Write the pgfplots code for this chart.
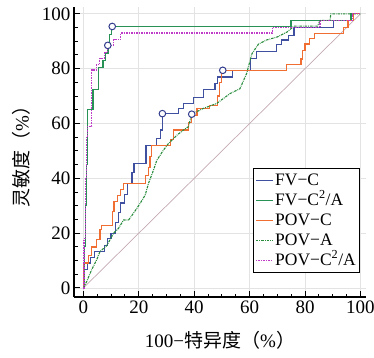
\documentclass[border=0pt]{standalone}
\usepackage{fontspec}
\setmainfont{Liberation Serif}
\newfontfamily\cjk{Noto Sans CJK SC}
\usepackage{pgfplots}
\pgfplotsset{compat=1.18}
\definecolor{cBlue}{RGB}{64,80,160}
\definecolor{cGreen}{RGB}{40,145,85}
\definecolor{cOrange}{RGB}{240,110,50}
\definecolor{cGreenD}{RGB}{40,140,60}
\definecolor{cMag}{RGB}{190,60,200}
\definecolor{cDiag}{RGB}{195,170,178}
\definecolor{cCirc}{RGB}{50,60,140}
\begin{document}
\begin{tikzpicture}
\begin{axis}[
  at={(0,0)}, anchor=south west,
  scale only axis, width=292pt, height=290pt,
  xmin=-3.4, xmax=102, ymin=-3.3, ymax=102.5,
  axis x line*=bottom, axis y line*=left,
  axis line style={black, line width=1.5pt, -},
  xtick={0,20,...,100}, ytick={0,20,...,100},
  minor x tick num=3, minor y tick num=3,
  tick align=inside,
  major tick length=6pt, minor tick length=3.5pt,
  tick style={black, line width=1pt},
  grid=major, major grid style={gray!22, line width=0.8pt},
  ticklabel style={font=\fontsize{19}{21}\selectfont},
  /pgf/number format/assume math mode=true,
  label style={font=\fontsize{19}{21}\selectfont},
  xlabel={100−{\cjk 特异度（}\%{\cjk ）}},
  ylabel={{\cjk 灵敏度（}\%{\cjk ）}},
  xlabel style={at={(axis description cs:0.5,-0.148)}, anchor=center},
  ylabel style={at={(axis description cs:-0.18,0.5)}, anchor=center},
  legend style={at={(axis description cs:0.979,0.445)}, anchor=north east,
    draw=black, line width=1.1pt, fill=white,
    font=\fontsize{17.5}{19}\selectfont,
    nodes={inner sep=1.5pt, text height=13pt, text depth=4pt},
    inner sep=2pt},
  legend cell align=left,
]
\addplot[cDiag, line width=0.7pt, forget plot] coordinates {(0,0) (100,100)};
% FV-C
\addplot[cBlue, line width=1.25pt] coordinates {
(0,0) (0,6.7) (1.5,6.7) (1.5,9.1) (2.5,9.1) (2.5,11) (4,11) (4,13.3) (7.5,13.3) (7.5,15.5) (8.7,15.5) (8.7,18) (10,18) (10,20) (11.7,20) (11.7,24) (12.7,24) (12.7,27.5) (13.5,27.5) (13.5,31) (14.7,31) (14.7,34) (16,34) (16,38.2) (17.5,38.2) (17.5,42) (18.3,42) (18.3,45.5) (22.6,45.5) (22.6,52.1) (26.5,52.1) (26.5,54.5) (27.7,54.5) (27.7,57.6) (28.5,57.6) (28.5,63.6) (34.3,63.6) (34.3,65.5) (36.1,65.5) (36.1,67.2) (39.7,67.2) (39.7,69.6) (43.3,69.6) (43.3,72.3) (47.5,72.3) (47.5,74.7) (48.5,74.7) (48.5,77) (53.9,77) (53.9,79.4) (60.3,79.4) (60.3,83.6) (62.5,83.6) (62.5,86.3) (69.8,86.3) (69.8,88.8) (71.5,88.8) (71.5,90.5) (74,90.5) (74,92.2) (76,92.2) (76,95.1) (90.3,95.1) (90.3,97.5) (96.5,97.5) (96.5,100) (100,100)};
\addlegendentry{FV−C}
% FV-C2/A
\addplot[cGreen, line width=1.25pt] coordinates {
(0,0) (0.3,0) (0.3,15) (0.8,15) (0.8,30) (1.2,30) (1.2,45) (1.6,45) (1.6,65) (3.5,65) (3.5,72.5) (5.5,72.5) (5.5,80.5) (7.1,80.5) (7.1,83) (8,83) (8,85.5) (8.9,85.5) (8.9,88.5) (9.5,88.5) (9.5,92.5) (10.1,92.5) (10.1,95.4) (74.9,95.4) (74.9,97.6) (96.6,97.6) (96.6,100) (100,100)};
\addlegendentry{FV−C\textsuperscript{2}/A}
% POV-C
\addplot[cOrange, line width=1.25pt] coordinates {
(0,0) (0,9.1) (1.8,9.1) (1.8,11.8) (3,11.8) (3,14.9) (4.8,14.9) (4.8,17.6) (6,17.6) (6,21.2) (6.6,21.2) (6.6,22.7) (10.5,22.7) (10.5,27.9) (11,27.9) (11,31.5) (12.3,31.5) (12.3,33.6) (13.3,33.6) (13.3,36) (14.4,36) (14.4,38.2) (22.5,38.2) (22.5,41) (23.5,41) (23.5,44) (24,44) (24,48) (24.7,48) (24.7,52.1) (31.3,52.1) (31.3,54.2) (32.5,54.2) (32.5,57.6) (37.9,57.6) (37.9,60.5) (39.1,60.5) (39.1,63) (41,63) (41,65.5) (45.5,65.5) (45.5,66.5) (48.5,66.5) (48.5,70) (49.2,70) (49.2,75) (49.8,75) (49.8,79.4) (73.4,79.4) (73.4,81.5) (78.5,81.5) (78.5,83.5) (79,83.5) (79,86.5) (80,86.5) (80,89) (81.5,89) (81.5,91) (83.3,91) (83.3,92.8) (93.8,92.8) (93.8,95.1) (95.5,95.1) (95.5,97.5) (97.5,97.5) (97.5,100) (100,100)};
\addlegendentry{POV−C}
% POV-A
\addplot[cGreenD, line width=1.1pt, dash pattern=on 2.5pt off 1pt on 0.8pt off 1pt] coordinates {
(0,0) (1.2,2.4) (3,6.7) (4.8,10.3) (6,13.3) (8.4,15.4) (10.9,20) (12.7,21.8) (14.5,24.8) (16.3,24.8) (18.1,27.3) (20.5,30.9) (22.3,33.9) (23.5,38.2) (25.3,43) (26.5,46.6) (28.9,50.3) (30.7,52.7) (33.7,55.7) (36.1,57.6) (37.9,58.8) (39.1,63.4) (43.3,65.5) (48.1,67.3) (52.9,70.9) (56.5,72.7) (58.9,78.2) (60.8,85.4) (63.2,89) (66.2,90.5) (69.8,91.5) (73.4,93.3) (76,95.5) (84.5,95.5) (85.4,97.6) (89,97.6) (89.3,100) (100,100)};
\addlegendentry{POV−A}
% POV-C2/A
\addplot[cMag, line width=1.1pt, dash pattern=on 1.5pt off 1pt] coordinates {
(0,0) (0.2,0) (0.2,18) (0.6,18) (0.6,40) (1,40) (1,55) (1.4,55) (1.4,59) (3,59) (3,79.5) (4.6,79.5) (4.6,81.5) (5.9,81.5) (5.9,83.8) (7.5,83.8) (7.5,86) (8.7,86) (8.7,88.5) (11,88.5) (11,90.5) (13.5,90.5) (13.5,93) (68.2,93) (68.2,95.1) (85.4,95.1) (85.4,97.6) (97,97.6) (97,100) (100,100)};
\addlegendentry{POV−C\textsuperscript{2}/A}
% optimal points
\addplot[only marks, mark=*, mark size=3.3pt, mark options={fill=white, draw=cCirc, line width=1pt}, forget plot] coordinates {
(10.4,95.4) (8.8,88.5) (28.5,63.6) (39.1,63.4) (50.3,79.4)};
\end{axis}
\pgfresetboundingbox
\path[use as bounding box] (-74pt,-60pt) rectangle (300pt,297pt);
\end{tikzpicture}
\end{document}
